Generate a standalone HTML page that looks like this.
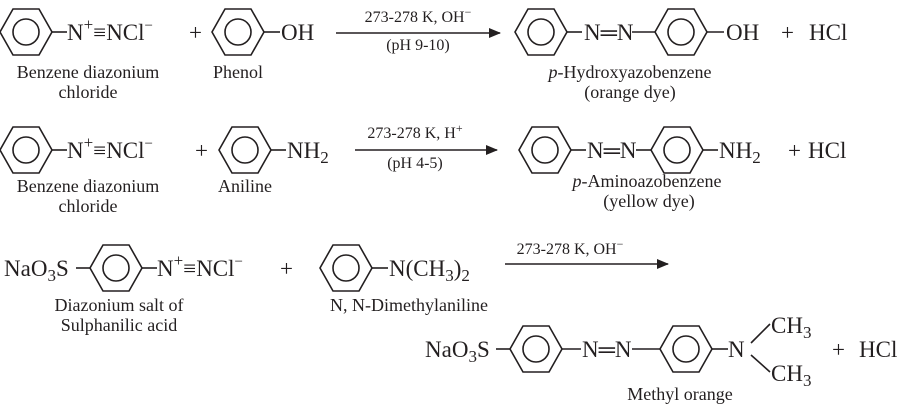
<!DOCTYPE html>
<html><head><meta charset="utf-8"><style>
html,body{margin:0;padding:0;background:#fff;}
svg{display:block;}
text{font-family:"Liberation Serif",serif;fill:#231f20;}
.c{font-size:23px;}
.l{font-size:18px;}
.s{font-size:16px;}
</style></head><body>
<svg width="901" height="408" viewBox="0 0 901 408" xmlns="http://www.w3.org/2000/svg">
<defs>
<g id="r" fill="none" stroke="#231f20" stroke-width="1.6">
<polygon points="-26,0 -13,-23 13,-23 26,0 13,23 -13,23"/>
<circle r="13"/>
</g>
<marker id="a" markerWidth="12" markerHeight="10" refX="11" refY="5" orient="auto" markerUnits="userSpaceOnUse">
<path d="M0,0 L12,5 L0,10 z" fill="#231f20"/>
</marker>
</defs>
<g stroke="#231f20" stroke-width="1.6" fill="none">
<line x1="52" y1="32" x2="67" y2="32"/>
<line x1="264" y1="32" x2="280" y2="32"/>
<line x1="336" y1="33" x2="500" y2="33" marker-end="url(#a)"/>
<line x1="567" y1="32" x2="582" y2="32"/>
<line x1="632" y1="32" x2="655" y2="32"/>
<line x1="707" y1="32" x2="724" y2="32"/>
<line x1="52" y1="150" x2="67" y2="150"/>
<line x1="271" y1="150" x2="286" y2="150"/>
<line x1="355" y1="150" x2="497" y2="150" marker-end="url(#a)"/>
<line x1="571" y1="150" x2="586" y2="150"/>
<line x1="636" y1="150" x2="651" y2="150"/>
<line x1="703" y1="150" x2="718" y2="150"/>
<line x1="76" y1="268" x2="90" y2="268"/>
<line x1="142" y1="268" x2="157" y2="268"/>
<line x1="372" y1="268" x2="388" y2="268"/>
<line x1="505" y1="264" x2="668" y2="264" marker-end="url(#a)"/>
<line x1="496" y1="349" x2="510" y2="349"/>
<line x1="562" y1="349" x2="581" y2="349"/>
<line x1="632" y1="349" x2="660" y2="349"/>
<line x1="712" y1="349" x2="728" y2="349"/>
<line x1="751" y1="343" x2="770" y2="324"/>
<line x1="751" y1="355" x2="770" y2="372"/>
</g>
<use href="#r" x="26" y="32"/>
<use href="#r" x="238" y="32"/>
<use href="#r" x="541" y="32"/>
<use href="#r" x="681" y="32"/>
<use href="#r" x="26" y="150"/>
<use href="#r" x="245" y="150"/>
<use href="#r" x="545" y="150"/>
<use href="#r" x="677" y="150"/>
<use href="#r" x="116" y="268"/>
<use href="#r" x="346" y="268"/>
<use href="#r" x="536" y="349"/>
<use href="#r" x="686" y="349"/>

<text class="c" x="67" y="40">N<tspan dy="-10" font-size="17">+</tspan><tspan dy="10">≡NCl</tspan><tspan dy="-10" font-size="15">−</tspan></text>
<text class="c" x="189" y="40">+</text>
<text class="c" x="281" y="40">OH</text>
<text class="s" x="418" y="22" text-anchor="middle">273-278 K, OH<tspan dy="-6" font-size="12">−</tspan></text>
<text class="s" x="418" y="50" text-anchor="middle">(pH 9-10)</text>
<text class="c" x="584" y="40">N═N</text>
<text class="c" x="726" y="40">OH</text>
<text class="c" x="781" y="40">+</text>
<text class="c" x="809" y="40">HCl</text>
<text class="l" x="88" y="78" text-anchor="middle">Benzene diazonium</text>
<text class="l" x="88" y="98" text-anchor="middle">chloride</text>
<text class="l" x="238" y="78" text-anchor="middle">Phenol</text>
<text class="l" x="630" y="78" text-anchor="middle"><tspan font-style="italic">p</tspan>-Hydroxyazobenzene</text>
<text class="l" x="630" y="98" text-anchor="middle">(orange dye)</text>

<text class="c" x="67" y="158">N<tspan dy="-10" font-size="17">+</tspan><tspan dy="10">≡NCl</tspan><tspan dy="-10" font-size="15">−</tspan></text>
<text class="c" x="195" y="158">+</text>
<text class="c" x="287" y="158">NH<tspan dy="5" font-size="17">2</tspan></text>
<text class="s" x="415" y="138" text-anchor="middle">273-278 K, H<tspan dy="-6" font-size="12">+</tspan></text>
<text class="s" x="415" y="168" text-anchor="middle">(pH 4-5)</text>
<text class="c" x="587" y="158">N═N</text>
<text class="c" x="719" y="158">NH<tspan dy="5" font-size="17">2</tspan></text>
<text class="c" x="788" y="158">+</text>
<text class="c" x="808" y="158">HCl</text>
<text class="l" x="88" y="192" text-anchor="middle">Benzene diazonium</text>
<text class="l" x="88" y="212" text-anchor="middle">chloride</text>
<text class="l" x="245" y="192" text-anchor="middle">Aniline</text>
<text class="l" x="647" y="187" text-anchor="middle"><tspan font-style="italic">p</tspan>-Aminoazobenzene</text>
<text class="l" x="649" y="207" text-anchor="middle">(yellow dye)</text>

<text class="c" x="4" y="276">NaO<tspan dy="5" font-size="17">3</tspan><tspan dy="-5">S</tspan></text>
<text class="c" x="157" y="276">N<tspan dy="-10" font-size="17">+</tspan><tspan dy="10">≡NCl</tspan><tspan dy="-10" font-size="15">−</tspan></text>
<text class="c" x="280" y="276">+</text>
<text class="c" x="389" y="276">N(CH<tspan dy="5" font-size="17">3</tspan><tspan dy="-5">)</tspan><tspan dy="5" font-size="17">2</tspan></text>
<text class="s" x="570" y="254" text-anchor="middle">273-278 K, OH<tspan dy="-6" font-size="12">−</tspan></text>
<text class="l" x="119" y="311" text-anchor="middle">Diazonium salt of</text>
<text class="l" x="119" y="331" text-anchor="middle">Sulphanilic acid</text>
<text class="l" x="409" y="311" text-anchor="middle">N, N-Dimethylaniline</text>
<text class="c" x="425" y="357">NaO<tspan dy="5" font-size="17">3</tspan><tspan dy="-5">S</tspan></text>
<text class="c" x="582" y="357">N═N</text>
<text class="c" x="728" y="357">N</text>
<text class="c" x="771" y="333">CH<tspan dy="5" font-size="17">3</tspan></text>
<text class="c" x="771" y="381">CH<tspan dy="5" font-size="17">3</tspan></text>
<text class="c" x="832" y="357">+</text>
<text class="c" x="859" y="357">HCl</text>
<text class="l" x="680" y="400" text-anchor="middle">Methyl orange</text>
</svg>
</body></html>
